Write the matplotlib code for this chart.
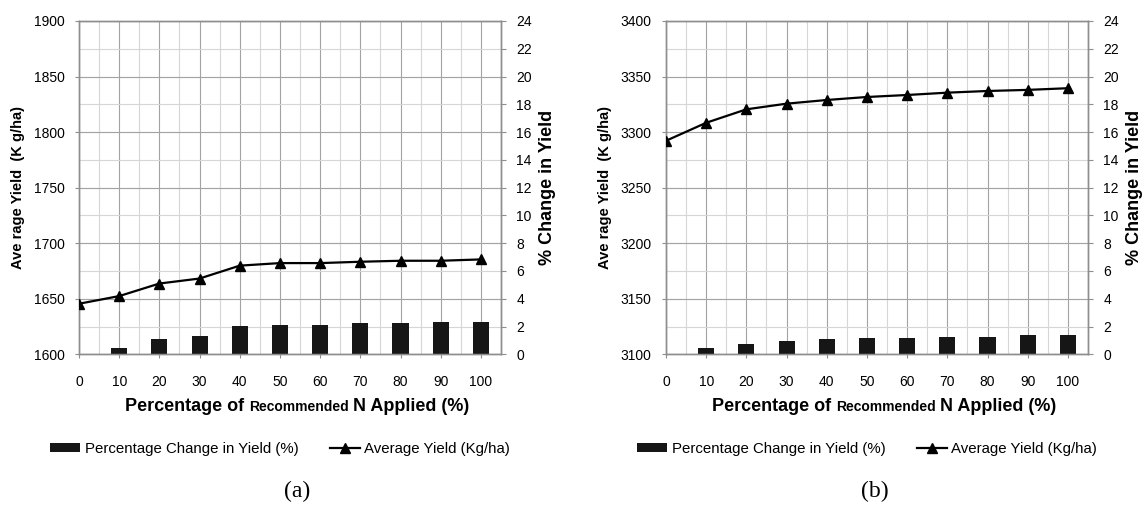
import matplotlib
matplotlib.use("Agg")
import matplotlib.pyplot as plt
from matplotlib.offsetbox import TextArea, HPacker, AnnotationBbox
from matplotlib.ticker import MultipleLocator

# data
n_applied = [0, 10, 20, 30, 40, 50, 60, 70, 80, 90, 100]

yield_a = [1645.5, 1652.4, 1663.7, 1668.2, 1679.8, 1682.1, 1682.1, 1683.3, 1684.2, 1684.2, 1685.4]
change_a = [0, 0.47, 1.12, 1.30, 2.02, 2.13, 2.13, 2.22, 2.22, 2.31, 2.31]

yield_b = [3292.2, 3308.4, 3320.5, 3325.6, 3328.9, 3331.6, 3333.4, 3335.5, 3337.0, 3338.0, 3339.5]
change_b = [0, 0.46, 0.77, 0.97, 1.07, 1.16, 1.16, 1.26, 1.26, 1.36, 1.36]

yield_label = "Ave rage Yield  (K g/ha)"
change_label = "% Change in Yield"
bar_name = "Percentage Change in Yield (%)"
line_name = "Average Yield (Kg/ha)"

SANS = ["Liberation Sans", "DejaVu Sans"]
plt.rcParams["font.family"] = SANS

GRID_DARK = "#a3a3a3"
GRID_LIGHT = "#d6d6d6"
SPINE = "#8e8e8e"


def draw_panel(fig, rect, yields, changes, ylim, caption, caption_x):
    ax_bar = fig.add_axes(rect)
    ax_line = ax_bar.twinx()
    ax_line.set_zorder(ax_bar.get_zorder() + 1)
    ax_line.patch.set_visible(False)

    # grid lives on the bar axes (behind)
    ax_bar.set_xlim(0, 105)
    ax_bar.xaxis.set_minor_locator(MultipleLocator(5))
    ax_bar.set_xticks(n_applied)
    ax_bar.grid(axis="x", which="major", color=GRID_DARK, lw=0.8)
    ax_bar.grid(axis="x", which="minor", color=GRID_LIGHT, lw=0.8)
    ax_bar.set_ylim(0, 24)
    ax_bar.yaxis.set_major_locator(MultipleLocator(2))
    ax_bar.grid(axis="y", which="major", color=GRID_LIGHT, lw=0.8)
    ax_bar.set_axisbelow(True)
    ax_bar.yaxis.tick_right()

    bars = ax_bar.bar(n_applied, changes, width=4, color="#161616", zorder=3)

    ax_line.set_ylim(*ylim)
    ax_line.yaxis.set_major_locator(MultipleLocator(50))
    ax_line.yaxis.tick_left()
    ax_line.grid(axis="y", color=GRID_DARK, lw=0.8, zorder=0)
    line, = ax_line.plot(n_applied, yields, color="black", lw=1.6,
                         marker="^", markersize=6.5, zorder=4)

    for a in (ax_bar, ax_line):
        for s in a.spines.values():
            s.set_color(SPINE)
            s.set_linewidth(1.0)
    ax_bar.tick_params(axis="x", which="major", length=3, width=0.8, color=SPINE,
                       labelsize=10, pad=12)
    ax_bar.tick_params(axis="x", which="minor", length=0)
    ax_bar.tick_params(axis="y", length=3.5, width=0.8, color=SPINE,
                       labelsize=10, pad=7.5)
    ax_line.tick_params(axis="y", length=3, width=0.8, color=SPINE,
                        labelsize=10, pad=7.5)

    ax_bar.text(-0.145, 0.5, yield_label, transform=ax_bar.transAxes, rotation=90,
                ha="center", va="center", fontsize=10.5, fontweight="bold")
    ax_bar.text(1.111, 0.5, change_label, transform=ax_bar.transAxes, rotation=90,
                ha="center", va="center", fontsize=13, fontweight="bold")

    # x label with the smaller middle word
    big = dict(size=13, weight="bold", family=SANS)
    small = dict(size=10, weight="bold", family=SANS)
    pack = HPacker(children=[TextArea("Percentage of", textprops=big),
                             TextArea("Recommended", textprops=small),
                             TextArea("N Applied (%)", textprops=big)],
                   align="baseline", pad=0, sep=3.5)
    ax_bar.add_artist(AnnotationBbox(pack, (0.517, -0.158), xycoords="axes fraction",
                                     frameon=False, box_alignment=(0.5, 0.5),
                                     annotation_clip=False))

    ax_bar.legend([bars, line], [bar_name, line_name], loc="center",
                  bbox_to_anchor=(0.477, -0.284), bbox_transform=ax_bar.transAxes,
                  ncol=2, frameon=False, fontsize=10.8, handlelength=2.0,
                  handleheight=0.5, handletextpad=0.3, columnspacing=2.1)

    ax_bar.text(caption_x, -0.413, caption, transform=ax_bar.transAxes,
                ha="center", va="center", fontsize=17,
                family=["Liberation Serif", "DejaVu Serif"])


fig = plt.figure(figsize=(11.44, 5.07), dpi=100)
w, h = 1144, 507
top, bottom = 21, 354.3
draw_panel(fig, [79 / w, 1 - bottom / h, 422 / w, (bottom - top) / h],
           yield_a, change_a, (1600, 1900), "(a)", 0.517)
draw_panel(fig, [666 / w, 1 - bottom / h, 422 / w, (bottom - top) / h],
           yield_b, change_b, (3100, 3400), "(b)", 0.495)

fig.savefig("out.png", dpi=100)
